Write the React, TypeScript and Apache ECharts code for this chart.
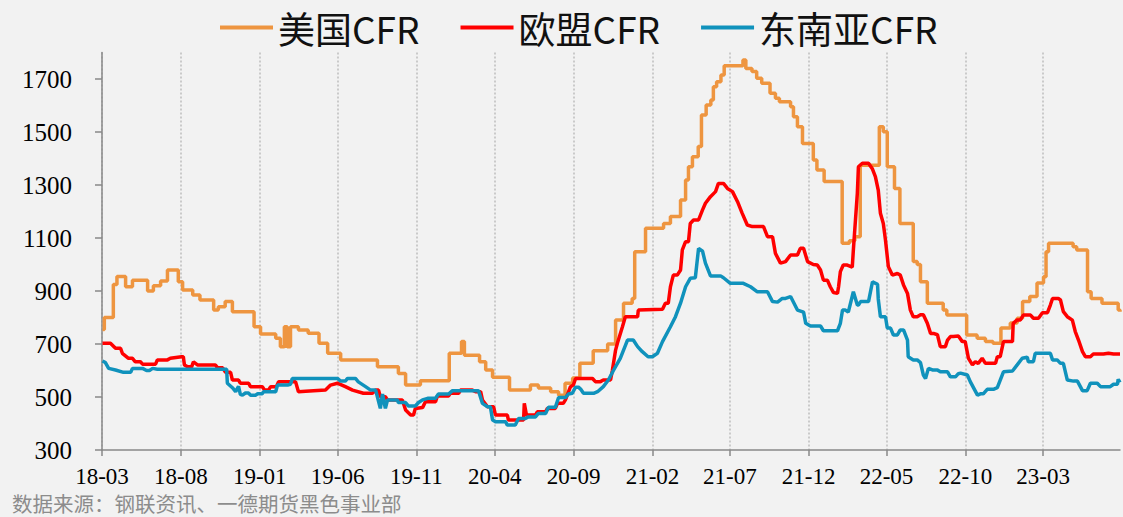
import React, { useEffect, useRef } from "react";
import * as echarts from "echarts";

// x: week index from 2018-03-02 (weekly data), y: USD/t
const usCFR: [number, number][] = [
  [0, 755], [0.5, 800], [3, 925], [4, 955], [6.4, 916], [8.3, 941], [12.5, 900], [14.1, 920],
  [16.1, 938], [18, 979], [21, 935], [22.2, 904], [25, 885], [27, 866], [30.8, 828], [32.1, 841],
  [34, 860], [36, 822], [42, 765], [43.8, 738], [48, 722], [49.3, 690], [50.4, 765], [51.2, 690],
  [52.1, 765], [54.3, 753], [57, 741], [60, 703], [62.4, 665], [66, 640], [76.2, 614], [82, 589],
  [84, 545], [88.1, 561], [96.1, 665], [99.5, 709], [100.3, 658], [104.5, 633], [106.2, 602],
  [108.1, 575], [112.8, 526], [118.6, 545], [120.8, 534], [124.2, 520], [126.4, 507], [128.2, 552],
  [130.3, 572], [132.3, 627], [136, 675], [140, 700], [142.2, 791], [144.4, 854], [146.8, 872],
  [147.5, 1048], [150.5, 1137], [155.5, 1155], [157.4, 1181], [160.2, 1243], [161.6, 1319],
  [162.4, 1369], [163.5, 1407], [165.1, 1445], [166, 1564], [167.3, 1602], [168.6, 1621],
  [169.3, 1671], [170.2, 1690], [171.4, 1715], [172.3, 1750], [177.5, 1772], [178.3, 1740],
  [180, 1728], [181.3, 1703], [182.7, 1684], [185, 1646], [186.5, 1627], [187.6, 1614],
  [190.7, 1595], [191.5, 1558], [192.6, 1520], [194, 1457], [197, 1394], [198, 1357], [200, 1313],
  [205, 1080], [207, 1090], [208.5, 1105], [210, 1375], [215.3, 1520], [216.4, 1501], [217.5, 1369],
  [219.5, 1287], [221, 1155], [224.7, 1011], [225.8, 1000], [226.7, 935], [228.6, 854], [233, 828],
  [234, 809], [239.5, 734], [242.4, 722], [244.7, 709], [246.8, 703], [249, 760], [251.6, 779],
  [253.5, 797], [255, 860], [257, 879], [259, 930], [260.8, 954], [261.5, 1048], [262.2, 1080],
  [269, 1067], [270, 1055], [273, 897], [274, 872], [277, 854], [281.5, 828], [282, 822],
];

const euCFR: [number, number][] = [
  [0, 703], [2.2, 703], [3.6, 684], [5, 684], [5.5, 665], [7.2, 646], [8.3, 646], [9.1, 633],
  [10.5, 633], [11.1, 624], [14.7, 624], [15.2, 640], [18, 640], [18.8, 646], [21.9, 652],
  [22.4, 652], [22.7, 621], [23.6, 614], [24.7, 614], [25.2, 633], [26.3, 621], [31.3, 621],
  [31.9, 610], [33.3, 610], [34.1, 593], [35.5, 593], [36, 564], [37.7, 564], [38.2, 552],
  [40.5, 552], [41, 539], [44.3, 539], [44.9, 526], [46, 526], [46.6, 539], [48.2, 539],
  [48.8, 558], [53.5, 558], [54.3, 520], [56.3, 522], [61.8, 526], [63.2, 545], [65.1, 552],
  [67.3, 539], [69.3, 526], [72.3, 514], [74.8, 514], [75.7, 526], [76.5, 526], [77, 501],
  [78.4, 501], [79, 489], [83.1, 489], [84, 451], [85.4, 432], [86.2, 432], [86.7, 457],
  [88.7, 460], [89.5, 482], [92.3, 482], [92.8, 504], [95.9, 504], [96.4, 514], [98.7, 514],
  [99.2, 526], [102.5, 526], [103.4, 520], [104.8, 520], [105.3, 489], [106.7, 463], [108.4, 463],
  [108.9, 432], [112.2, 432], [112.5, 413], [116.7, 413], [116.9, 476], [117.5, 432], [120, 432],
  [120.5, 444], [122.8, 444], [123.3, 457], [125.5, 457], [126.1, 476], [127.7, 476], [128.3, 489],
  [129.7, 539], [130.5, 545], [131.1, 570], [135.8, 570], [136.6, 558], [138, 558], [138.8, 564],
  [140.8, 564], [141.3, 600], [142.2, 677], [142.7, 703], [144.1, 765], [144.9, 803], [148.3, 803],
  [148.5, 828], [155.2, 831], [156, 854], [156.8, 854], [157.4, 916], [158.2, 960], [159.3, 960],
  [160.2, 979], [160.7, 1055], [161.6, 1086], [162.4, 1086], [162.9, 1155], [163.8, 1168],
  [165.2, 1168], [166.3, 1206], [167.1, 1231], [168.5, 1256], [169.9, 1275], [170.7, 1306],
  [172.1, 1306], [173.2, 1287], [174.6, 1275], [176, 1237], [177.3, 1193], [178.7, 1149],
  [180.1, 1143], [183.2, 1143], [184.3, 1105], [185.7, 1105], [186.5, 1042], [187.9, 1005],
  [189.3, 1011], [190.7, 1036], [192.6, 1036], [193.4, 1061], [194.3, 1061], [195.4, 1011],
  [197, 1000], [198.1, 998], [199, 979], [199.8, 941], [200.9, 941], [201.7, 916], [202.6, 894],
  [203.7, 891], [204, 916], [204.5, 973], [205.3, 998], [206.4, 998], [207.8, 990], [208.1, 1055],
  [209.2, 1268], [209.5, 1369], [210.6, 1382], [212.3, 1382], [213.4, 1360], [214.2, 1332],
  [215, 1281], [215.6, 1193], [216.4, 1155], [217, 1092], [217.8, 992], [218.9, 960], [220.3, 966],
  [221.1, 960], [222, 923], [223.1, 891], [223.9, 828], [224.7, 803], [225.8, 803], [226.7, 810],
  [227.5, 810], [228.6, 778], [229.5, 740], [230.3, 740], [231.4, 735], [232.2, 690], [233.6, 690],
  [234.2, 715], [235, 728], [235.8, 728], [237.2, 730], [238.3, 709], [239.1, 709], [240, 646],
  [241.1, 621], [241.9, 633], [242.7, 627], [243.8, 646], [244.7, 627], [247.5, 627], [248, 652],
  [248.8, 652], [249.7, 709], [252.2, 709], [252.4, 778], [253.5, 791], [254.4, 791], [255.2, 809],
  [257.2, 809], [258, 797], [259.4, 797], [260.5, 818], [261.9, 818], [262.7, 847], [263.3, 872],
  [264.9, 872], [265.5, 866], [266.3, 822], [267.4, 803], [268.8, 790], [269.6, 747], [270.5, 715],
  [271.6, 671], [272.4, 652], [273.8, 652], [274.6, 662], [277.4, 662], [278.8, 665], [280.2, 662],
  [282, 662],
];

const seaCFR: [number, number][] = [
  [0, 636], [0.8, 630], [1.7, 608], [3.6, 602], [5.8, 593], [7.8, 593], [8.3, 608], [11.1, 608],
  [12.2, 600], [13, 600], [13.9, 608], [15.2, 605], [34.4, 605], [34.6, 552], [36, 535],
  [36.9, 520], [37.7, 540], [38.2, 510], [38.8, 507], [39.6, 515], [40.5, 515], [41, 507],
  [42.4, 507], [43, 512], [44.3, 512], [44.6, 520], [48, 520], [48.5, 545], [51.3, 545],
  [52.1, 548], [52.6, 570], [65.1, 570], [66, 560], [67.3, 560], [67.9, 570], [70.1, 570],
  [70.9, 557], [72.9, 539], [74.3, 526], [75.7, 526], [76.2, 500], [77, 457], [77.6, 511],
  [78.4, 457], [79, 489], [81.7, 489], [82, 479], [84, 479], [84.8, 466], [86.7, 466], [87.6, 479],
  [88.7, 489], [90.1, 495], [92.3, 495], [93.1, 511], [95.9, 511], [97, 524], [104.2, 524],
  [105.3, 476], [106.7, 463], [107.5, 463], [108.1, 413], [108.9, 407], [111.7, 407], [112.2, 394],
  [114.4, 394], [115.3, 419], [117.2, 419], [118, 425], [120, 425], [120.8, 438], [122.8, 438],
  [123.6, 461], [125.5, 461], [126.4, 498], [128.3, 498], [129.1, 511], [130.2, 514], [131.1, 537],
  [131.9, 537], [132.5, 530], [133.3, 514], [136.1, 514], [137.2, 520], [138.8, 539], [140.2, 564],
  [141.6, 600], [143.5, 646], [145.5, 715], [147.1, 715], [148.3, 690], [149.6, 671], [151.2, 652],
  [152.4, 652], [153.8, 665], [155.2, 709], [157.4, 765], [158.8, 803], [160.2, 854], [161.6, 916],
  [162.9, 948], [164.3, 950], [165.2, 1061], [166.3, 1050], [167.1, 1005], [168.5, 957],
  [171.3, 957], [172.1, 950], [174, 929], [177.6, 929], [179.6, 916], [181.5, 897], [184.3, 897],
  [185.7, 860], [187.1, 858], [188.4, 872], [189.3, 872], [190.7, 879], [192.6, 828], [194.3, 820],
  [194.9, 778], [196.2, 768], [199, 768], [199.8, 750], [203.7, 750], [204.5, 778], [205.1, 828],
  [205.9, 828], [206.7, 820], [208.1, 897], [209.2, 847], [209.5, 847], [210.1, 860], [212.3, 860],
  [213.4, 935], [214.8, 925], [215, 870], [215.6, 803], [217, 803], [217.5, 760], [218.4, 760],
  [219.2, 734], [220.3, 734], [221.1, 753], [222, 753], [223.1, 715], [223.3, 652], [224.7, 640],
  [225.8, 640], [226.7, 630], [227.5, 583], [228.1, 570], [228.9, 608], [230, 602], [231.4, 602],
  [232.2, 595], [234.2, 595], [235, 576], [236.4, 576], [237.2, 588], [237.8, 590], [239.7, 583],
  [240.5, 558], [242.5, 507], [243.3, 512], [244.1, 512], [245.2, 529], [246.9, 529], [248, 535],
  [249.7, 595], [252.2, 598], [253.5, 621], [254.9, 646], [256.3, 650], [256.6, 633], [258, 633],
  [258.5, 665], [262.7, 665], [263.3, 640], [264.6, 640], [265.5, 627], [266.3, 627], [267.4, 564],
  [269.1, 560], [270.2, 560], [271.6, 524], [272.9, 524], [273.8, 552], [275.7, 552], [276.6, 539],
  [279.3, 539], [280.2, 548], [281.3, 548], [281.5, 567], [282, 555],
];

const seriesNames = ["美国CFR", "欧盟CFR", "东南亚CFR"];
const xTickMonths = [
  "2018-03", "2018-08", "2019-01", "2019-06", "2019-11", "2020-04", "2020-09",
  "2021-02", "2021-07", "2021-12", "2022-05", "2022-10", "2023-03",
];
const yTicks = [300, 500, 700, 900, 1100, 1300, 1500, 1700];
const sourceText = "数据来源：钢联资讯、一德期货黑色事业部";

const AXIS_START = Date.UTC(2018, 2, 1);
const DAY = 86400000;
const FIRST_WEEK_DAY = 1; // 2018-03-02
const LAST_WEEK = 282;

const monthToDay = (s: string) => {
  const [y, m] = s.split("-").map(Number);
  return (Date.UTC(y, m - 1, 1) - AXIS_START) / DAY;
};
const toXY = (arr: [number, number][]) => arr.map(([w, v]) => [FIRST_WEEK_DAY + w * 7, v]);
const xTickDays = xTickMonths.map(monthToDay);

export default function App() {
  const ref = useRef<HTMLDivElement>(null);
  useEffect(() => {
    if (!ref.current) return;
    const chart = echarts.init(ref.current, null, { renderer: "svg" });
    const colors = ["#EE9540", "#FF0000", "#1092BC"];
    chart.setOption({
      animation: false,
      backgroundColor: "#F2F2F2",
      color: colors,
      legend: {
        data: seriesNames,
        left: 215,
        top: 4,
        icon: "rect",
        itemWidth: 53,
        itemHeight: 4,
        itemGap: 41,
        textStyle: { fontSize: 37, color: "#111", fontFamily: "Noto Sans CJK SC" },
      },
      grid: { left: 102, right: 3, top: 52.5, bottom: 67 },
      xAxis: {
        type: "value",
        min: 0,
        max: FIRST_WEEK_DAY + LAST_WEEK * 7,
        axisLine: { show: true, lineStyle: { color: "#898989", width: 1.5 } },
        axisTick: { show: true, customValues: xTickDays, length: 6, lineStyle: { color: "#898989", width: 1.5 } },
        axisLabel: {
          customValues: xTickDays,
          margin: 15,
          fontSize: 23,
          lineHeight: 23,
          color: "#000",
          fontFamily: "Liberation Serif",
          formatter: (val: number) => {
            const d = new Date(AXIS_START + Math.round(val) * DAY);
            const yy = String(d.getUTCFullYear()).slice(2);
            const mm = String(d.getUTCMonth() + 1).padStart(2, "0");
            return `${yy}-${mm}`;
          },
        },
        splitLine: { show: true, lineStyle: { color: "#BDBDBD", width: 1.5, type: [2, 2] } },
      },
      yAxis: {
        type: "value",
        min: 300,
        max: 1800,
        axisLine: { show: true, lineStyle: { color: "#898989", width: 1.5 } },
        axisTick: { show: true, customValues: yTicks, length: 7, lineStyle: { color: "#898989", width: 1.5 } },
        axisLabel: {
          customValues: yTicks,
          margin: 30,
          fontSize: 25,
          color: "#000",
          fontFamily: "Liberation Serif",
          formatter: (v: number) => String(v),
        },
        splitLine: { show: false },
      },
      graphic: [
        {
          type: "text",
          left: 12,
          top: 492,
          style: { text: sourceText, fontSize: 20.5, lineHeight: 21, fill: "#8C8C8C", fontFamily: "Noto Sans CJK SC" },
        },
      ],
      series: [
        { name: seriesNames[0], type: "line", step: "end", data: toXY(usCFR), showSymbol: false, symbol: "none", lineStyle: { width: 3.5 } },
        { name: seriesNames[1], type: "line", data: toXY(euCFR), showSymbol: false, symbol: "none", lineStyle: { width: 3.5 } },
        { name: seriesNames[2], type: "line", data: toXY(seaCFR), showSymbol: false, symbol: "none", lineStyle: { width: 3.5 } },
      ],
    });
    return () => chart.dispose();
  }, []);
  return (
    <div
      ref={ref}
      style={{ position: "fixed", left: 0, top: 0, width: 1123, height: 517, background: "#F2F2F2" }}
    />
  );
}
